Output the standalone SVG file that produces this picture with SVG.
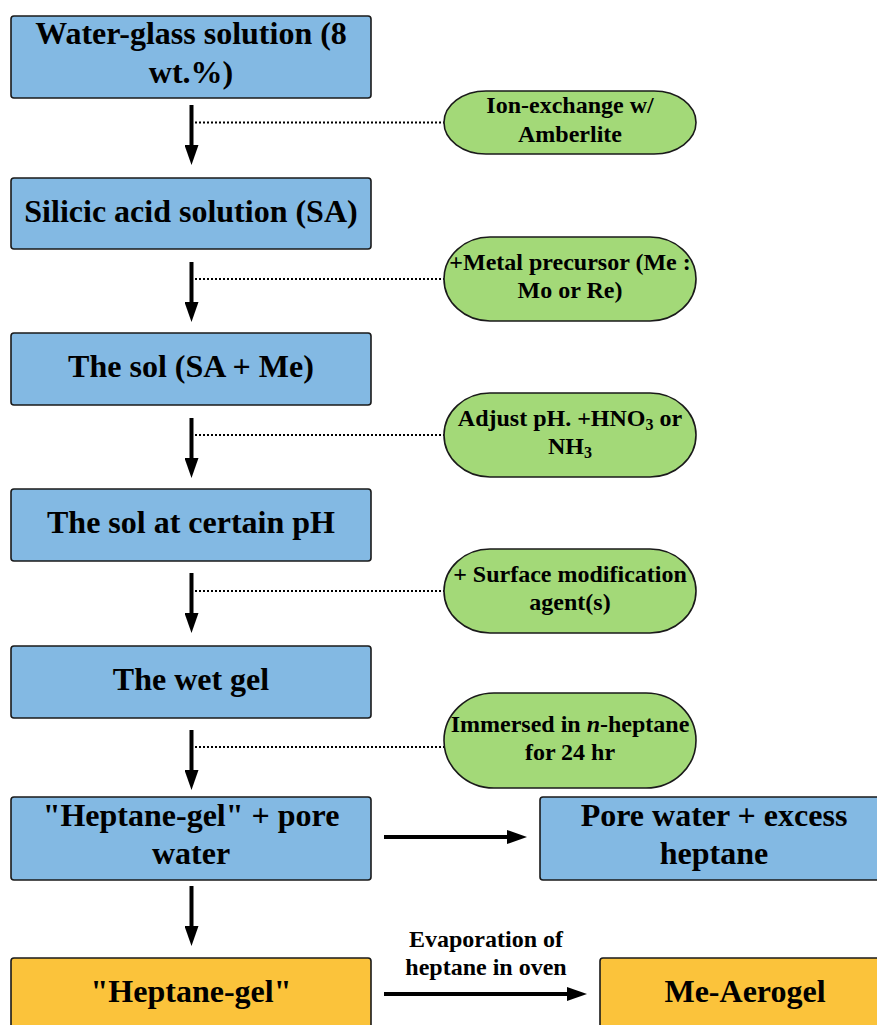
<svg xmlns="http://www.w3.org/2000/svg" width="877" height="1025" viewBox="0 0 877 1025">
<defs>
<style>
.box{fill:#83B9E3;stroke:#1a1a1a;stroke-width:1.6}
.obox{fill:#FBC33B;stroke:#1a1a1a;stroke-width:1.6}
.pill{fill:#A3D978;stroke:#1a1a1a;stroke-width:1.6}
.t{font-family:"Liberation Serif","Times New Roman",serif;font-weight:bold;font-size:32px;fill:#000;text-anchor:middle}
.s{font-family:"Liberation Serif","Times New Roman",serif;font-weight:bold;font-size:24px;fill:#000;text-anchor:middle}
.arr{stroke:#000;stroke-width:4;fill:none}
.dot{stroke:#000;stroke-width:2;stroke-dasharray:2 2;fill:none}
</style>
<marker id="ah" viewBox="0 0 20 14" refX="0" refY="7" markerWidth="20" markerHeight="14" markerUnits="userSpaceOnUse" orient="auto">
<path d="M0,0 L20,7 L0,14 Z" fill="#000"/>
</marker>
</defs>
<rect width="877" height="1025" fill="#fff"/>

<g id="connectors">
<line class="arr" x1="191.5" y1="105" x2="191.5" y2="145" marker-end="url(#ah)"/>
<line class="dot" x1="195" y1="122.5" x2="444" y2="122.5"/>
<line class="arr" x1="191.5" y1="262" x2="191.5" y2="302" marker-end="url(#ah)"/>
<line class="dot" x1="195" y1="279" x2="444" y2="279"/>
<line class="arr" x1="191.5" y1="418" x2="191.5" y2="458" marker-end="url(#ah)"/>
<line class="dot" x1="195" y1="435" x2="444" y2="435"/>
<line class="arr" x1="191.5" y1="573" x2="191.5" y2="613" marker-end="url(#ah)"/>
<line class="dot" x1="195" y1="591" x2="444" y2="591"/>
<line class="arr" x1="191.5" y1="730" x2="191.5" y2="770" marker-end="url(#ah)"/>
<line class="dot" x1="195" y1="747" x2="444" y2="747"/>
<line class="arr" x1="384" y1="837" x2="507" y2="837" marker-end="url(#ah)"/>
<line class="arr" x1="191.5" y1="886" x2="191.5" y2="926" marker-end="url(#ah)"/>
<line class="arr" x1="384" y1="994" x2="567" y2="994" marker-end="url(#ah)"/>
<text class="s" x="486" y="947">Evaporation of</text>
<text class="s" x="486" y="975">heptane in oven</text>
</g>

<g id="n1"><rect class="box" x="11" y="16" width="360" height="82" rx="3"/>
<text class="t" x="191" y="44">Water-glass solution (8</text>
<text class="t" x="191" y="83">wt.%)</text></g>

<g id="n2"><rect class="box" x="11" y="178" width="360" height="71" rx="3"/>
<text class="t" x="191" y="222">Silicic acid solution (SA)</text></g>

<g id="n3"><rect class="box" x="11" y="333" width="360" height="72" rx="3"/>
<text class="t" x="191" y="377">The sol (SA + Me)</text></g>

<g id="n4"><rect class="box" x="11" y="489" width="360" height="72" rx="3"/>
<text class="t" x="191" y="533">The sol at certain pH</text></g>

<g id="n5"><rect class="box" x="11" y="646" width="360" height="72" rx="3"/>
<text class="t" x="191" y="690">The wet gel</text></g>

<g id="n6"><rect class="box" x="11" y="797" width="360" height="83" rx="3"/>
<text class="t" x="191" y="826">"Heptane-gel" + pore</text>
<text class="t" x="191" y="864">water</text></g>

<g id="n7"><rect class="box" x="540" y="797" width="360" height="83" rx="3"/>
<text class="t" x="714" y="826">Pore water + excess</text>
<text class="t" x="714" y="864">heptane</text></g>

<g id="n8"><rect class="obox" x="11" y="958" width="360" height="90" rx="3"/>
<text class="t" x="191" y="1002">"Heptane-gel"</text></g>

<g id="n9"><rect class="obox" x="600" y="958" width="320" height="90" rx="3"/>
<text class="t" x="745" y="1002">Me-Aerogel</text></g>

<g id="p1"><rect class="pill" x="444" y="91" width="252" height="63" rx="42" ry="31.5"/>
<text class="s" x="570" y="113">Ion-exchange w/</text>
<text class="s" x="570" y="142">Amberlite</text></g>

<g id="p2"><rect class="pill" x="444" y="237" width="252" height="84" rx="46" ry="42"/>
<text class="s" x="570" y="270">+Metal precursor (Me :</text>
<text class="s" x="570" y="298">Mo or Re)</text></g>

<g id="p3"><rect class="pill" x="444" y="393" width="252" height="84" rx="46" ry="42"/>
<text class="s" x="570" y="426">Adjust pH. +HNO<tspan font-size="16" dy="4">3</tspan><tspan dy="-4"> or</tspan></text>
<text class="s" x="570" y="454">NH<tspan font-size="16" dy="4">3</tspan></text></g>

<g id="p4"><rect class="pill" x="444" y="549" width="252" height="84" rx="46" ry="42"/>
<text class="s" x="570" y="582">+ Surface modification</text>
<text class="s" x="570" y="610">agent(s)</text></g>

<g id="p5"><rect class="pill" x="444" y="693" width="252" height="95" rx="50" ry="47.5"/>
<text class="s" x="570" y="732">Immersed in <tspan font-style="italic">n</tspan>-heptane</text>
<text class="s" x="570" y="760">for 24 hr</text></g>
</svg>
